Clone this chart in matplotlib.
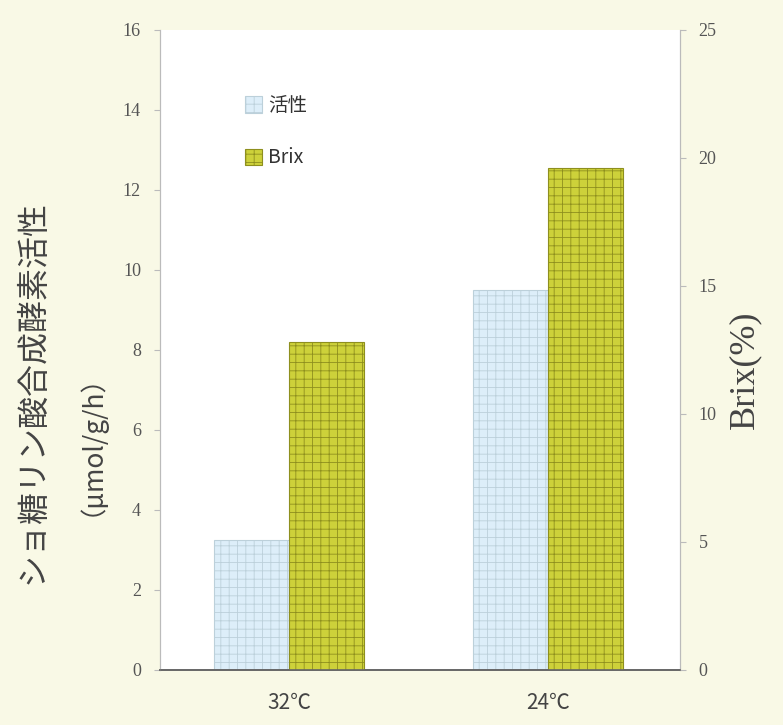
import matplotlib
matplotlib.use("Agg")
import matplotlib.pyplot as plt
import numpy as np

categories = ["32℃", "24℃"]
activity = [3.25, 9.5]
brix = [12.8, 19.6]
left_ticks = [0, 2, 4, 6, 8, 10, 12, 14, 16]
right_ticks = [0, 5, 10, 15, 20, 25]

plt.rcParams['font.family'] = ['Liberation Serif', 'Noto Sans CJK JP', 'DejaVu Sans']
plt.rcParams['hatch.linewidth'] = 0.6
CJK = ['Noto Sans CJK JP', 'DejaVu Sans']

bg = '#F9F9E6'
fig = plt.figure(figsize=(7.83, 7.25), dpi=100, facecolor=bg)
ax = fig.add_axes([0.204, 0.076, 0.664, 0.883])
ax.set_facecolor('white')

x = np.arange(len(categories))
w = 0.29
b1 = ax.bar(x - w/2, activity, w, facecolor='#DDEEF9', edgecolor='#BCD0DA',
            hatch='++', linewidth=0.8, label='活性')
ax.set_ylim(0, 16)
ax.set_xlim(-0.5, 1.51)
ax.set_yticks(left_ticks)
ax.set_xticks(x)
ax.set_xticklabels(categories, fontsize=15, color='#444444', family=CJK)

ax2 = ax.twinx()
b2 = ax2.bar(x + w/2, brix, w, facecolor='#CDD13A', edgecolor='#8E8F1E',
             hatch='++', linewidth=0.8, label='Brix')
ax2.set_ylim(0, 25)
ax2.set_yticks(right_ticks)

for a in (ax, ax2):
    a.spines['top'].set_visible(False)
    a.spines['left'].set_color('#BBBBBB')
    a.spines['right'].set_color('#BBBBBB')
    a.spines['bottom'].set_color('#666666')
    a.spines['bottom'].set_linewidth(1.2)
    a.tick_params(axis='y', colors='#BBBBBB', labelcolor='#555555', labelsize=13,
                  length=4.5, pad=9)
    a.tick_params(axis='x', length=0, pad=16)

fig.text(0.042, 1 - 392/725, 'ショ糖リン酸合成酵素活性', rotation=90, fontsize=23,
         color='#444444', family=CJK, ha='center', va='center')
fig.text(0.099, 1 - 432/725, '（μmol/g/h）', rotation=90, fontsize=19,
         color='#444444', family=CJK, ha='center', va='center')
fig.text(0.951, 1 - 370/725, 'Brix(%)', rotation=90, fontsize=26,
         color='#444444', ha='center', va='center')

leg = ax2.legend([b1, b2], ['活性', 'Brix'], loc='upper left',
                 bbox_to_anchor=(0.13, 0.925), frameon=False,
                 handlelength=0.9, handleheight=0.9, handletextpad=0.3,
                 labelspacing=1.6, prop={'family': CJK, 'size': 14})
for t in leg.get_texts():
    t.set_color('#333333')

fig.savefig('out.png', dpi=100, facecolor=bg)
